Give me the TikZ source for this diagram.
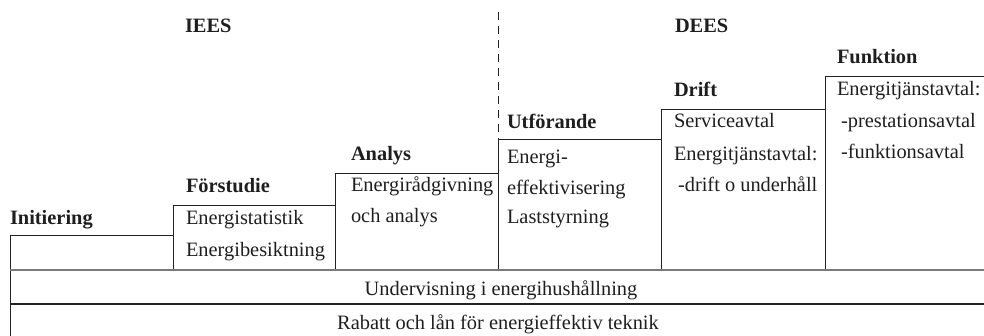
\documentclass[tikz,border=0pt]{standalone}
\usepackage{fontspec}
\setmainfont{Liberation Serif}
\definecolor{txt}{HTML}{1E1E1E}
\definecolor{edge}{HTML}{222222}
\definecolor{grayedge}{HTML}{7A7A7A}
\begin{document}
\begin{tikzpicture}[x=1pt,y=-1pt,
  stepbox/.style={draw=edge, line width=1pt, inner sep=0pt, outer sep=0pt, anchor=north west, rectangle},
  head/.style={anchor=base west, inner sep=0pt, outer sep=0pt, font=\fontsize{20.4}{24}\selectfont\bfseries, text=txt},
  body/.style={anchor=base west, inner sep=0pt, outer sep=0pt, font=\fontsize{20.4}{24}\selectfont, text=txt},
  centre/.style={anchor=base, inner sep=0pt, outer sep=0pt, font=\fontsize{20.4}{24}\selectfont, text=txt},
]
\useasboundingbox (0,0) rectangle (984,335);
\begin{scope}
\clip (0,0) rectangle (984,335);
% step boxes
\node[stepbox, minimum width=163pt, minimum height=35pt] (b1) at (10,235) {};
\node[stepbox, minimum width=162pt, minimum height=65pt] (b2) at (173,205) {};
\node[stepbox, minimum width=163pt, minimum height=97pt] (b3) at (335,173) {};
\node[stepbox, minimum width=163pt, minimum height=131pt] (b4) at (498,139) {};
\node[stepbox, minimum width=164pt, minimum height=161pt] (b5) at (661,109) {};
\node[stepbox, minimum width=200pt, minimum height=194pt] (b6) at (825,76) {};
% bands
\node[stepbox, minimum width=1000pt, minimum height=34pt] (band1) at (10,270) {};
\node[stepbox, minimum width=1000pt, minimum height=50pt] (band2) at (10,304) {};
\draw[grayedge, line width=1.8pt] (band1.north west) -- (band1.north east);
\draw[edge, line width=1.4pt] (band2.north west) -- (band2.north east);
\end{scope}
% divider
\coordinate (dtop) at (498,12);
\draw[edge, line width=0.9pt, dash pattern=on 8pt off 6pt] (dtop) -- (b4.north west);
% group titles
\node[head] (iees) at (185,32) {IEES};
\node[head] (dees) at (675,32) {DEES};
% headings
\node[head] (h1) at (10,224) {Initiering};
\node[head] (h2) at (186,192) {Förstudie};
\node[head] (h3) at (351,160) {Analys};
\node[head] (h4) at (507,128) {Utförande};
\node[head] (h5) at (674,96) {Drift};
\node[head] (h6) at (837,63) {Funktion};
% contents
\node[body] (t21) at (186,224) {Energistatistik};
\node[body] (t22) at (186,256) {Energibesiktning};
\node[body] (t31) at (351,191) {Energirådgivning};
\node[body] (t32) at (351,222) {och analys};
\node[body] (t41) at (507,163) {Energi-};
\node[body] (t42) at (507,194) {effektivisering};
\node[body] (t43) at (507,223) {Laststyrning};
\node[body] (t51) at (674,127) {Serviceavtal};
\node[body] (t52) at (674,160) {Energitjänstavtal:};
\node[body] (t53) at (678,191) {-drift o underhåll};
\node[body] (t61) at (837,95) {Energitjänstavtal:};
\node[body] (t62) at (841,127) {-prestationsavtal};
\node[body] (t63) at (841,158) {-funktionsavtal};
\node[centre] (u1) at (501,295) {Undervisning i energihushållning};
\node[centre] (u2) at (498,329) {Rabatt och lån för energieffektiv teknik};
\end{tikzpicture}
\end{document}
